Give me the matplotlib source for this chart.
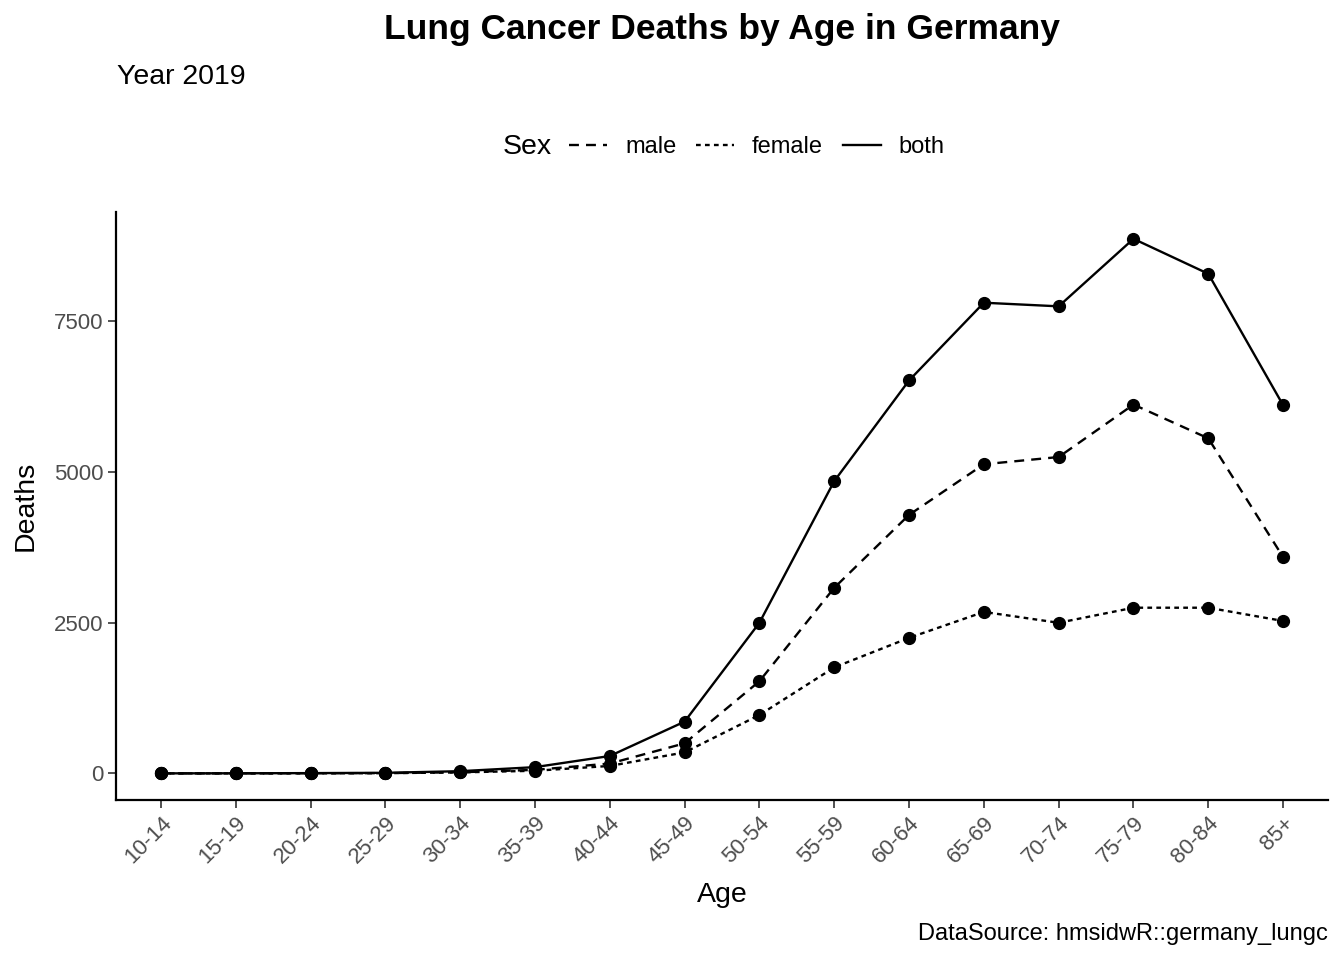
import matplotlib
matplotlib.use("Agg")
import matplotlib.pyplot as plt
from matplotlib.lines import Line2D

plt.rcParams['font.family'] = ['Liberation Sans', 'DejaVu Sans']

ages = ["10-14", "15-19", "20-24", "25-29", "30-34", "35-39", "40-44", "45-49",
        "50-54", "55-59", "60-64", "65-69", "70-74", "75-79", "80-84", "85+"]
male = [1, 2, 4, 6, 20, 60, 165, 500, 1530, 3080, 4290, 5130, 5250, 6120, 5560, 3590]
female = [1, 1, 2, 5, 18, 45, 125, 350, 970, 1760, 2250, 2680, 2500, 2750, 2750, 2530]
both = [2, 3, 6, 11, 38, 105, 290, 860, 2500, 4850, 6520, 7810, 7750, 8870, 8290, 6110]

fig = plt.figure(figsize=(13.44, 9.6), dpi=100)
ax = fig.add_axes([116/1344, 1-800/960, (1328-116)/1344, (800-212)/960])

x = list(range(len(ages)))
lw = 1.7
male_d = (4.2, 3.0)
fem_d = (2.0, 1.8)
ax.plot(x, male, color='black', lw=lw, dashes=male_d, marker='o', ms=8.5)
ax.plot(x, female, color='black', lw=lw, dashes=fem_d, marker='o', ms=8.5)
ax.plot(x, both, color='black', lw=lw, marker='o', ms=8.5)

ax.set_xlim(-0.6, len(ages) - 1 + 0.6)
ax.set_ylim(-440, 9315)
ax.set_xticks(x)
ax.set_xticklabels(ages, rotation=45, ha='right', rotation_mode='anchor', color='#4D4D4D', fontsize=16)
ax.set_yticks([0, 2500, 5000, 7500])
ax.set_yticklabels(['0', '2500', '5000', '7500'], color='#4D4D4D', fontsize=16)
ax.tick_params(axis='both', length=6, width=1.2, color='#333333')
ax.tick_params(axis='x', pad=3)
ax.tick_params(axis='y', pad=3)
for s in ['top', 'right']:
    ax.spines[s].set_visible(False)
for s in ['left', 'bottom']:
    ax.spines[s].set_linewidth(1.6)
ax.set_xlabel('Age', fontsize=20.5, labelpad=10)
ax.set_ylabel('Deaths', fontsize=20.5, labelpad=11)

fig.text(722/1344, 1-30/960, 'Lung Cancer Deaths by Age in Germany', ha='center', va='center',
         fontsize=25.5, fontweight='bold')
fig.text(117/1344, 1-77/960, 'Year 2019', ha='left', va='center', fontsize=20.5)
fig.text(1328/1344, 1-934/960, 'DataSource: hmsidwR::germany_lungc', ha='right', va='center', fontsize=17)

fig.text(503/1344, 1-147/960, 'Sex', ha='left', va='center', fontsize=20.5)
handles = [Line2D([], [], color='black', lw=lw, dashes=male_d),
           Line2D([], [], color='black', lw=lw, dashes=fem_d),
           Line2D([], [], color='black', lw=lw)]
fig.legend(handles, ['male', 'female', 'both'], loc='center', bbox_to_anchor=(757/1344, 1-147/960),
           ncol=3, frameon=False, fontsize=17, handlelength=1.6, handletextpad=0.76,
           columnspacing=0.85, borderpad=0, borderaxespad=0)

fig.savefig('out.png', dpi=100)
